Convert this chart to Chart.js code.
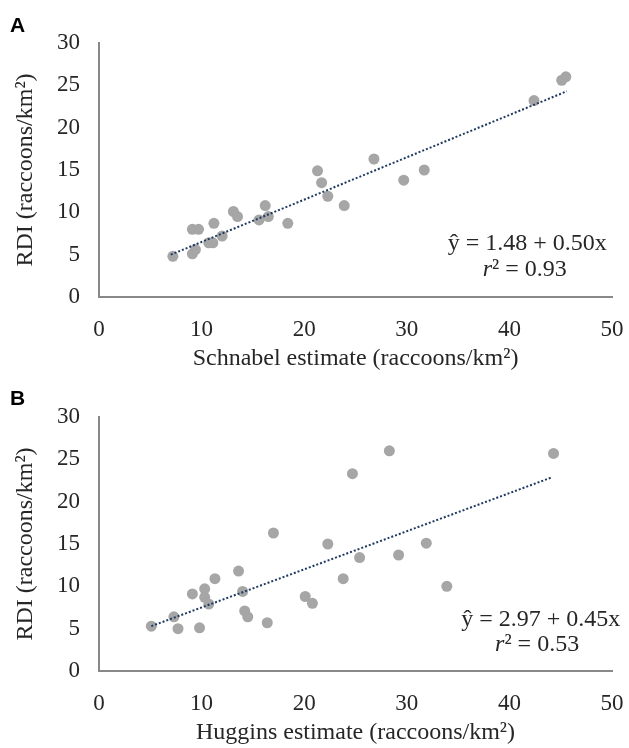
<!DOCTYPE html>
<html lang="en">
<head>
<meta charset="utf-8">
<title>RDI vs Schnabel and Huggins estimates</title>
<style>
  body { margin: 0; background: #fff; width: 629px; height: 748px; position: relative; overflow: hidden; }
  .panel { position: absolute; left: 0; width: 629px; height: 374px; }
  .tag { position: absolute; left: 10px; font: bold 21px/21px "Liberation Sans", Arial, sans-serif; color: #000; }
</style>
</head>
<body>
<div class="panel" style="top:0"><canvas id="chartA"></canvas></div>
<div class="panel" style="top:374px"><canvas id="chartB"></canvas></div>
<div class="tag" style="top:14px">A</div>
<div class="tag" style="top:387px">B</div>

<script src="https://cdn.jsdelivr.net/npm/chart.js"></script>
<script>
// panel A: Schnabel estimate vs RDI
const schnabelX = [7.2, 9.1, 9.4, 9.1, 9.7, 11.2, 10.7, 11.1, 12.0, 13.1, 13.5, 15.6, 16.2, 16.5, 18.4,
  21.3, 21.7, 22.3, 23.9, 26.8, 29.7, 31.7, 42.4, 45.1, 45.5];
const schnabelRDI = [4.8, 5.1, 5.6, 8.0, 8.0, 8.7, 6.4, 6.4, 7.2, 10.1, 9.5, 9.1, 10.8, 9.5, 8.7,
  14.9, 13.5, 11.9, 10.8, 16.3, 13.8, 15.0, 23.2, 25.6, 26.0];
const schnabelTrendX = [7.0, 45.6];
const schnabelTrendY = [5.0, 24.3];

// panel B: Huggins estimate vs RDI
const hugginsX = [5.1, 7.3, 7.7, 9.1, 9.8, 10.3, 10.3, 10.7, 11.3, 13.6, 14.0, 14.2, 14.5, 16.4, 17.0,
  20.1, 20.8, 22.3, 23.8, 24.7, 25.4, 28.3, 29.2, 31.9, 33.9, 44.3];
const hugginsRDI = [5.3, 6.4, 5.0, 9.1, 5.1, 9.7, 8.7, 7.9, 10.9, 11.8, 9.4, 7.1, 6.4, 5.7, 16.3,
  8.8, 8.0, 15.0, 10.9, 23.3, 13.4, 26.0, 13.7, 15.1, 10.0, 25.7];
const hugginsTrendX = [5.1, 44.2];
const hugginsTrendY = [5.3, 22.9];

const serif = '"Liberation Serif", "Times New Roman", serif';
const txt = '#262626';

// draws the regression equation and r² inside the plot
const fitText = {
  id: 'fitText',
  afterDatasetsDraw(chart, args, o) {
    const { ctx, scales: { x, y } } = chart;
    ctx.save();
    ctx.fillStyle = txt;
    ctx.textBaseline = 'middle';
    ctx.font = '24px ' + serif;
    ctx.textAlign = 'right';
    ctx.fillText(o.eq, x.getPixelForValue(o.eqAt[0]), y.getPixelForValue(o.eqAt[1]));

    const rest = '\u00b2 = ' + o.r2;
    const restW = ctx.measureText(rest).width;
    ctx.font = 'italic 24px ' + serif;
    const rW = ctx.measureText('r').width;
    let px = x.getPixelForValue(o.r2At[0]) - (rW + restW) / 2;
    const py = y.getPixelForValue(o.r2At[1]);
    ctx.textAlign = 'left';
    ctx.fillText('r', px, py);
    ctx.font = '24px ' + serif;
    ctx.fillText(rest, px + rW, py);
    ctx.restore();
  }
};

function toPoints(xs, ys) {
  return xs.map((v, i) => ({ x: v, y: ys[i] }));
}

function makeChart(id, xs, ys, tx, ty, xTitle, fit) {
  return new Chart(document.getElementById(id), {
    type: 'scatter',
    data: {
      datasets: [{
        data: toPoints(tx, ty),
        showLine: true,
        borderColor: '#1f3a5f',
        borderWidth: 2,
        borderDash: [2, 2],
        pointRadius: 0,
        order: 0
      }, {
        data: toPoints(xs, ys),
        backgroundColor: '#a6a6a6',
        borderWidth: 0,
        pointRadius: 5.5,
        pointHoverRadius: 5.5,
        order: 1
      }]
    },
    options: {
      responsive: true,
      maintainAspectRatio: false,
      animation: false,
      layout: { padding: { top: 43, right: 17, bottom: 0, left: 0 } },
      plugins: { legend: { display: false }, tooltip: { enabled: false }, fitText: fit },
      scales: {
        x: {
          type: 'linear', min: 0, max: 50,
          ticks: { stepSize: 10, padding: 19, color: txt, font: { family: serif, size: 23 } },
          grid: { display: false, drawTicks: false },
          border: { display: true, color: '#888', width: 2 },
          title: {
            display: true, text: xTitle, color: txt,
            font: { family: serif, size: 24 }, padding: { top: 0, bottom: 1 }
          },
          // fixed height, and keep the tick padding from eating the right margin
          afterFit: s => { s.height = 77; s.paddingRight = 12; s.paddingLeft = 0; }
        },
        y: {
          min: 0, max: 30,
          ticks: { stepSize: 5, padding: 19, color: txt, font: { family: serif, size: 23 } },
          grid: { display: false, drawTicks: false },
          border: { display: true, color: '#888', width: 2 },
          title: {
            display: true, text: 'RDI (raccoons/km\u00b2)', color: txt,
            font: { family: serif, size: 24 }, padding: { top: 11, bottom: 0 }
          },
          afterFit: s => { s.width = 99; }
        }
      }
    },
    plugins: [fitText]
  });
}

makeChart('chartA', schnabelX, schnabelRDI, schnabelTrendX, schnabelTrendY,
  'Schnabel estimate (raccoons/km\u00b2)',
  { eq: '\u0177 = 1.48 + 0.50x', eqAt: [49.5, 6.3], r2: '0.93', r2At: [41.5, 3.2] });

makeChart('chartB', hugginsX, hugginsRDI, hugginsTrendX, hugginsTrendY,
  'Huggins estimate (raccoons/km\u00b2)',
  { eq: '\u0177 = 2.97 + 0.45x', eqAt: [50.8, 6.0], r2: '0.53', r2At: [42.7, 3.1] });
</script>
</body>
</html>
